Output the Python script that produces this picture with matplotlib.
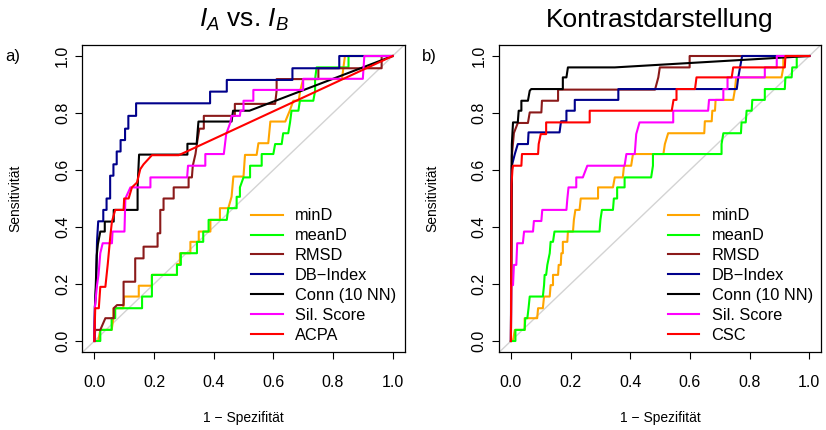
import matplotlib
matplotlib.use("Agg")
import matplotlib.pyplot as plt

plt.rcParams['font.family'] = ['Liberation Sans', 'DejaVu Sans']
plt.rcParams['mathtext.fontset'] = 'custom'
plt.rcParams['mathtext.rm'] = 'Liberation Sans'
plt.rcParams['mathtext.it'] = 'Liberation Sans:italic'

ticks = [0.0, 0.2, 0.4, 0.6, 0.8, 1.0]
tick_labels = ["0.0", "0.2", "0.4", "0.6", "0.8", "1.0"]
names_a = ["minD", "meanD", "RMSD", "DB\u2212Index", "Conn (10 NN)", "Sil. Score", "ACPA"]
names_b = ["minD", "meanD", "RMSD", "DB\u2212Index", "Conn (10 NN)", "Sil. Score", "CSC"]
colors = ["#FFA500", "#00FF00", "#8B1A1A", "#00008B", "#000000", "#FF00FF", "#FF0000"]

# ---- a) I_A vs. I_B : ROC points (1 - specificity, sensitivity) ----
a_mind_fpr = [0, 0.013, 0.02, 0.058, 0.064, 0.064, 0.097, 0.10, 0.149, 0.149, 0.193, 0.193, 0.277, 0.277, 0.287, 0.287,
              0.322, 0.322, 0.35, 0.35, 0.389, 0.389, 0.421, 0.421, 0.449, 0.46, 0.466, 0.50, 0.505, 0.544, 0.55, 0.583,
              0.59, 0.64, 0.655, 0.667, 0.685, 0.69, 0.70, 0.83, 0.835, 0.84, 1]
a_mind_tpr = [0, 0, 0.039, 0.039, 0.08, 0.115, 0.115, 0.156, 0.156, 0.194, 0.194, 0.232, 0.232, 0.27, 0.27, 0.308,
              0.308, 0.348, 0.348, 0.384, 0.384, 0.425, 0.425, 0.466, 0.466, 0.506, 0.577, 0.577, 0.653, 0.653, 0.694, 0.694,
              0.77, 0.77, 0.808, 0.843, 0.843, 0.878, 0.919, 0.919, 0.96, 1, 1]
a_meand_fpr = [0, 0.02, 0.02, 0.058, 0.058, 0.07, 0.07, 0.16, 0.16, 0.193, 0.193, 0.277, 0.277, 0.29, 0.29, 0.344, 0.344,
               0.365, 0.365, 0.383, 0.383, 0.444, 0.449, 0.477, 0.477, 0.488, 0.488, 0.50, 0.522, 0.522, 0.561, 0.561,
               0.60, 0.606, 0.628, 0.633, 0.65, 0.656, 0.661, 0.684, 0.689, 0.734, 0.74, 0.74, 0.745, 0.852, 0.852, 1]
a_meand_tpr = [0, 0, 0.039, 0.039, 0.08, 0.08, 0.115, 0.115, 0.156, 0.156, 0.232, 0.232, 0.267, 0.267, 0.308, 0.308, 0.348,
               0.348, 0.384, 0.384, 0.425, 0.425, 0.466, 0.466, 0.506, 0.506, 0.539, 0.574, 0.574, 0.615, 0.615, 0.656,
               0.656, 0.691, 0.691, 0.729, 0.729, 0.767, 0.808, 0.808, 0.843, 0.843, 0.878, 0.919, 0.96, 0.96, 1, 1]
a_rmsd_fpr = [0, 0.003, 0.02, 0.037, 0.065, 0.065, 0.076, 0.098, 0.098, 0.137, 0.137, 0.165, 0.165, 0.212, 0.212, 0.221,
              0.221, 0.232, 0.232, 0.266, 0.266, 0.316, 0.316, 0.327, 0.33, 0.339, 0.345, 0.352, 0.367, 0.367, 0.471,
              0.471, 0.606, 0.611, 0.611, 0.751, 0.751, 0.963, 0.963, 1]
a_rmsd_tpr = [0, 0.039, 0.039, 0.08, 0.08, 0.115, 0.126, 0.126, 0.208, 0.208, 0.29, 0.29, 0.331, 0.331, 0.378, 0.378,
              0.46, 0.46, 0.50, 0.50, 0.539, 0.539, 0.574, 0.574, 0.615, 0.656, 0.70, 0.745, 0.745, 0.79, 0.79,
              0.832, 0.832, 0.878, 0.919, 0.919, 0.957, 0.957, 1, 1]
a_db_fpr = [0, 0.002, 0.006, 0.009, 0.013, 0.03, 0.03, 0.041, 0.041, 0.053, 0.053, 0.064, 0.064, 0.075, 0.075, 0.088,
            0.088, 0.103, 0.103, 0.114, 0.114, 0.14, 0.14, 0.388, 0.388, 0.444, 0.444, 0.664, 0.664, 0.821, 0.821, 1]
a_db_tpr = [0, 0.12, 0.19, 0.35, 0.42, 0.42, 0.46, 0.46, 0.50, 0.50, 0.58, 0.58, 0.62, 0.62, 0.665, 0.665,
            0.705, 0.705, 0.745, 0.745, 0.79, 0.79, 0.834, 0.834, 0.875, 0.875, 0.916, 0.916, 0.957, 0.957, 1, 1]
a_conn_fpr = [0, 0.002, 0.005, 0.008, 0.012, 0.02, 0.035, 0.035, 0.065, 0.065, 0.145, 0.145, 0.15, 0.312, 0.312, 0.343,
              0.349, 0.46, 0.465, 0.52, 1]
a_conn_tpr = [0, 0.12, 0.2, 0.3, 0.34, 0.384, 0.384, 0.419, 0.419, 0.46, 0.46, 0.54, 0.654, 0.654, 0.692, 0.692,
              0.77, 0.77, 0.808, 0.808, 1]
a_sil_fpr = [0, 0.002, 0.009, 0.014, 0.02, 0.028, 0.059, 0.061, 0.101, 0.104, 0.121, 0.188, 0.188, 0.311, 0.314, 0.372,
             0.372, 0.434, 0.438, 0.442, 0.456, 0.46, 0.488, 0.49, 0.50, 0.50, 0.533, 0.533, 0.70, 0.70, 0.90, 0.905, 1]
a_sil_tpr = [0, 0.12, 0.196, 0.232, 0.308, 0.343, 0.343, 0.384, 0.384, 0.50, 0.539, 0.539, 0.574, 0.574, 0.615, 0.615,
             0.656, 0.656, 0.691, 0.726, 0.767, 0.79, 0.79, 0.808, 0.808, 0.843, 0.843, 0.881, 0.881, 0.92, 0.92, 1, 1]
a_acpa_fpr = [0, 0.003, 0.015, 0.02, 0.037, 0.045, 0.054, 0.059, 0.07, 0.098, 0.10, 0.115, 0.126, 0.143, 0.154, 0.165,
              0.193, 0.283, 1]
a_acpa_tpr = [0, 0.115, 0.115, 0.19, 0.19, 0.27, 0.372, 0.419, 0.46, 0.46, 0.50, 0.50, 0.539, 0.556, 0.603, 0.62,
              0.652, 0.652, 1]

# ---- b) Kontrastdarstellung ----
b_mind_fpr = [0, 0.007, 0.013, 0.046, 0.046, 0.088, 0.091, 0.107, 0.111, 0.13, 0.133, 0.141, 0.141, 0.158, 0.16, 0.167,
              0.169, 0.174, 0.174, 0.189, 0.191, 0.208, 0.211, 0.216, 0.23, 0.234, 0.292, 0.292, 0.342, 0.348, 0.375,
              0.379, 0.403, 0.409, 0.511, 0.516, 0.527, 0.648, 0.65, 0.673, 0.675, 0.684, 0.686, 0.745, 0.751, 0.755,
              0.907, 0.913, 0.913, 1]
b_mind_tpr = [0, 0, 0.039, 0.039, 0.08, 0.08, 0.115, 0.115, 0.156, 0.156, 0.196, 0.196, 0.232, 0.232, 0.267, 0.267,
              0.308, 0.308, 0.348, 0.348, 0.384, 0.384, 0.425, 0.46, 0.46, 0.50, 0.50, 0.539, 0.539, 0.574, 0.574,
              0.615, 0.615, 0.656, 0.656, 0.691, 0.729, 0.729, 0.771, 0.771, 0.808, 0.808, 0.846, 0.846, 0.884, 0.925,
              0.925, 0.96, 1, 1]
b_meand_fpr = [0, 0.015, 0.015, 0.046, 0.048, 0.055, 0.059, 0.063, 0.107, 0.111, 0.113, 0.118, 0.122, 0.13, 0.133, 0.141,
               0.146, 0.297, 0.30, 0.305, 0.342, 0.345, 0.356, 0.356, 0.381, 0.381, 0.47, 0.476, 0.476, 0.706, 0.706,
               0.712, 0.771, 0.773, 0.787, 0.79, 0.807, 0.809, 0.851, 0.851, 0.918, 0.92, 0.941, 0.943, 0.958, 0.958, 1]
b_meand_tpr = [0, 0, 0.039, 0.039, 0.08, 0.08, 0.115, 0.156, 0.156, 0.196, 0.232, 0.232, 0.267, 0.308, 0.348, 0.348,
               0.384, 0.384, 0.425, 0.46, 0.46, 0.50, 0.50, 0.539, 0.539, 0.574, 0.574, 0.615, 0.656, 0.656, 0.691,
               0.729, 0.729, 0.767, 0.767, 0.808, 0.808, 0.846, 0.846, 0.884, 0.884, 0.925, 0.925, 0.96, 0.96, 1, 1]
b_rmsd_fpr = [0, 0.002, 0.003, 0.01, 0.023, 0.057, 0.063, 0.102, 0.104, 0.158, 0.158, 0.483, 0.494, 0.499, 0.599, 0.599, 1]
b_rmsd_tpr = [0, 0.5, 0.65, 0.73, 0.765, 0.765, 0.802, 0.802, 0.843, 0.843, 0.882, 0.882, 0.925, 0.96, 0.96, 1, 1]
b_db_fpr = [0, 0.001, 0.003, 0.013, 0.023, 0.057, 0.059, 0.163, 0.168, 0.186, 0.186, 0.214, 0.214, 0.36, 0.36, 0.757,
            0.762, 0.768, 0.775, 1]
b_db_tpr = [0, 0.498, 0.615, 0.656, 0.691, 0.691, 0.732, 0.732, 0.771, 0.771, 0.808, 0.808, 0.846, 0.846, 0.884, 0.884,
            0.925, 0.96, 1, 1]
b_conn_fpr = [0, 0.002, 0.003, 0.007, 0.023, 0.026, 0.035, 0.035, 0.057, 0.063, 0.068, 0.174, 0.174, 0.186, 0.191, 0.348, 1]
b_conn_tpr = [0, 0.5, 0.69, 0.767, 0.767, 0.808, 0.808, 0.843, 0.843, 0.878, 0.884, 0.884, 0.925, 0.925, 0.96, 0.96, 1]
b_sil_fpr = [0, 0.001, 0.007, 0.01, 0.018, 0.021, 0.04, 0.044, 0.074, 0.077, 0.102, 0.105, 0.186, 0.189, 0.193, 0.219,
             0.219, 0.241, 0.256, 0.381, 0.387, 0.415, 0.42, 0.431, 0.544, 0.544, 0.661, 0.664, 0.712, 0.712, 0.726,
             0.726, 0.851, 0.851, 0.891, 0.891, 1]
b_sil_tpr = [0, 0.196, 0.196, 0.267, 0.267, 0.343, 0.343, 0.384, 0.384, 0.421, 0.421, 0.46, 0.46, 0.498, 0.539, 0.539,
             0.574, 0.574, 0.615, 0.615, 0.656, 0.656, 0.726, 0.767, 0.767, 0.808, 0.808, 0.846, 0.846, 0.884, 0.884,
             0.925, 0.925, 0.96, 0.96, 1, 1]
b_csc_fpr = [0, 0.002, 0.005, 0.007, 0.035, 0.037, 0.091, 0.093, 0.1, 0.118, 0.118, 0.264, 0.264, 0.539, 0.545, 0.555,
             0.555, 0.617, 0.622, 0.74, 0.745, 0.918, 0.92, 1]
b_csc_tpr = [0, 0.55, 0.6, 0.615, 0.615, 0.656, 0.656, 0.691, 0.726, 0.726, 0.767, 0.767, 0.808, 0.808, 0.846, 0.846,
             0.884, 0.884, 0.925, 0.925, 0.96, 0.96, 1, 1]

curves_a = [(a_mind_fpr, a_mind_tpr), (a_meand_fpr, a_meand_tpr), (a_rmsd_fpr, a_rmsd_tpr), (a_db_fpr, a_db_tpr),
            (a_conn_fpr, a_conn_tpr), (a_sil_fpr, a_sil_tpr), (a_acpa_fpr, a_acpa_tpr)]
curves_b = [(b_mind_fpr, b_mind_tpr), (b_meand_fpr, b_meand_tpr), (b_rmsd_fpr, b_rmsd_tpr), (b_db_fpr, b_db_tpr),
            (b_conn_fpr, b_conn_tpr), (b_sil_fpr, b_sil_tpr), (b_csc_fpr, b_csc_tpr)]

W, H = 826, 430
fig = plt.figure(figsize=(W / 100, H / 100), dpi=100)


def roc_panel(left, curves, names, title, tag):
    ax = fig.add_axes([left / W, 1 - 352.4 / H, 322.2 / W, 307.8 / H])
    ax.axline((0, 0), (1, 1), color="#D3D3D3", lw=1.0, zorder=1)
    for (fpr, tpr), name, col in zip(curves, names, colors):
        ax.plot(fpr, tpr, color=col, lw=1.5, label=name, zorder=2)
    ax.set_xlim(-0.04, 1.04)
    ax.set_ylim(-0.04, 1.04)
    ax.set_xticks(ticks)
    ax.set_xticklabels(tick_labels)
    ax.set_yticks(ticks)
    ax.set_yticklabels(tick_labels, rotation=90, va="center")
    ax.tick_params(direction="out", length=5, width=0.8, labelsize=11.5)
    ax.tick_params(axis="x", pad=11)
    ax.tick_params(axis="y", pad=4)
    for s in ax.spines.values():
        s.set_linewidth(0.9)
    ax.set_xlabel("1 \u2212 Spezifit\u00e4t", fontsize=10)
    ax.set_ylabel("Sensitivit\u00e4t", fontsize=10)
    ax.xaxis.set_label_coords(0.5, -0.19)
    ax.yaxis.set_label_coords(-0.185, 0.5)
    ax.legend(loc="upper left", bbox_to_anchor=(0.523, 0.468), frameon=False, borderpad=0, borderaxespad=0,
              handlelength=1.94, handletextpad=0.75, labelspacing=0.3, fontsize=11.8)
    cx = (left + 161.1) / W
    fig.text(cx, 1 - 20 / H, title, ha="center", va="center", fontsize=19)
    fig.text((left - 70) / W, 1 - 57 / H, tag, ha="center", va="center", fontsize=12)
    return ax


roc_panel(82.4, curves_a, names_a, r"$I_A$ vs. $I_B$", "a)")
roc_panel(499.0, curves_b, names_b, "Kontrastdarstellung", "b)")

fig.savefig("out.png", dpi=100)
